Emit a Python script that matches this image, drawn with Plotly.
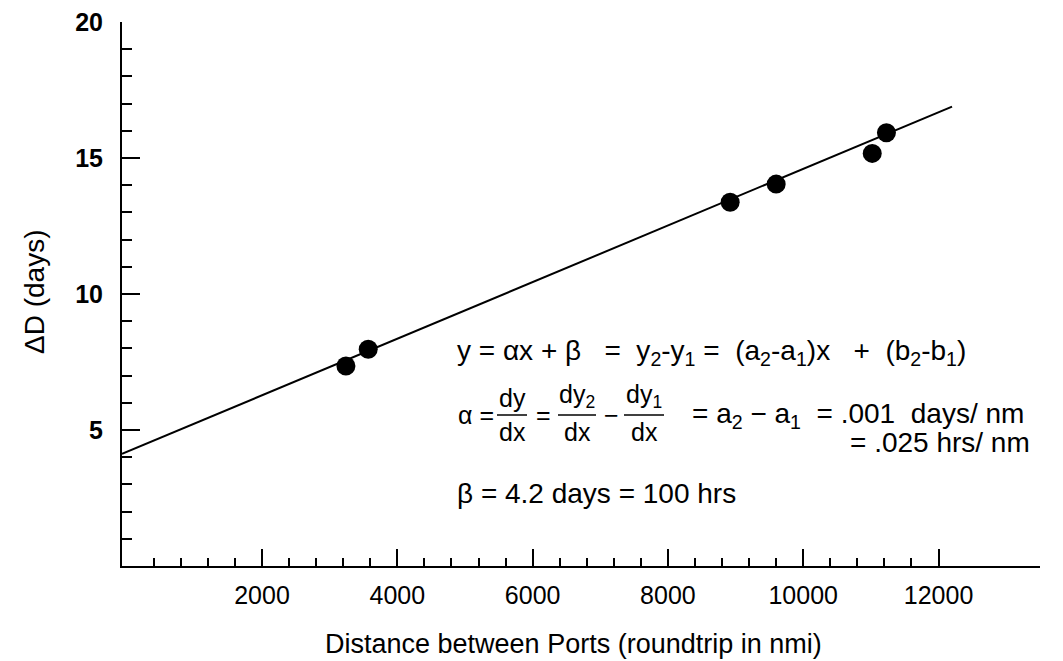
import plotly.graph_objects as go

# ---- data ----
dist_nmi = [3240, 3570, 8920, 9600, 11020, 11230]
delta_days = [7.35, 7.97, 13.37, 14.04, 15.17, 15.93]
fit_x = [-70, 12200]
fit_y = [4.12, 16.89]
x_tickvals = [2000, 4000, 6000, 8000, 10000, 12000]
x_ticktext = ["2000", "4000", "6000", "8000", "10000", "12000"]
x_minorvals = [v for v in range(400, 12000, 400) if v % 2000 != 0]
y_tickvals = [5, 10, 15, 20]
y_ticktext = ["5", "10", "15", "20"]
y_minorvals = [v for v in range(1, 20) if v % 5 != 0]

W, H = 1063, 661
L, R, T, B = 122, 23, 22, 95
XR = [-70, 13500]
YR = [0, 20]


def px(x):
    return (x - L) / (W - L - R)


def py(y):
    return (H - B - y) / (H - T - B)


FONT = "Liberation Sans, Arial, sans-serif"

fig = go.Figure()
fig.add_trace(go.Scatter(x=fit_x, y=fit_y, mode="lines",
                         line=dict(color="black", width=2), hoverinfo="skip",
                         showlegend=False))
fig.add_trace(go.Scatter(x=dist_nmi, y=delta_days, mode="markers",
                         marker=dict(color="black", size=19), showlegend=False))

fig.update_layout(
    width=W, height=H,
    margin=dict(l=L, r=R, t=T, b=B, autoexpand=False),
    paper_bgcolor="white", plot_bgcolor="white",
    showlegend=False,
)

fig.update_xaxes(
    range=XR, showgrid=False, zeroline=False,
    showline=True, linecolor="black", linewidth=2,
    tickmode="array", tickvals=x_tickvals, ticktext=x_ticktext,
    ticks="inside", ticklen=17, tickwidth=2, tickcolor="black",
    minor=dict(tickmode="array", tickvals=x_minorvals, ticks="inside",
               ticklen=8, tickwidth=1.5, tickcolor="black"),
    tickfont=dict(family=FONT, size=25, color="black"),
    ticklabelstandoff=6,
)
fig.update_yaxes(
    range=YR, showgrid=False, zeroline=False,
    showline=True, linecolor="black", linewidth=2,
    tickmode="array", tickvals=y_tickvals, ticktext=y_ticktext,
    ticks="inside", ticklen=18, tickwidth=2, tickcolor="black",
    minor=dict(tickmode="array", tickvals=y_minorvals, ticks="inside",
               ticklen=10, tickwidth=1.5, tickcolor="black"),
    tickfont=dict(family=FONT, size=25, color="black", weight="bold"),
    ticklabelstandoff=12,
)

ann = []
shapes = []


def add_text(text, x, y, xanchor="left", yanchor="middle", size=27, angle=0):
    ann.append(dict(text=text, x=px(x), y=py(y), xref="paper", yref="paper",
                    xanchor=xanchor, yanchor=yanchor, showarrow=False,
                    textangle=angle,
                    font=dict(family=FONT, size=size, color="black")))


# axis titles
add_text("Distance between Ports (roundtrip in nmi)", 573, 644, xanchor="center", size=27)
add_text("ΔD (days)", 34, 292, xanchor="center", size=28, angle=-90)

# equations
add_text("y = αx + β   =  y<sub>2</sub>-y<sub>1</sub> =  (a<sub>2</sub>-a<sub>1</sub>)x   +  (b<sub>2</sub>-b<sub>1</sub>)",
         455, 352, size=28)

ybar = 415
FS = 25
add_text("α =", 456, ybar, size=FS)
for num, cx, hw in [("dy", 512, 15), ("dy<sub>2</sub>", 577, 19), ("dy<sub>1</sub>", 644, 20)]:
    add_text(num, cx, ybar - 1, xanchor="center", yanchor="bottom", size=FS)
    add_text("dx", cx, ybar + 1, xanchor="center", yanchor="top", size=FS)
    shapes.append(dict(type="line", xref="paper", yref="paper",
                       x0=px(cx - hw), x1=px(cx + hw), y0=py(ybar), y1=py(ybar),
                       line=dict(color="black", width=1.5)))
add_text("=", 543, ybar, xanchor="center", size=FS)
add_text("−", 611, ybar, xanchor="center", size=FS)
add_text("= a<sub>2</sub> − a<sub>1</sub>  = .001  days/ nm", 690, ybar, size=28)
add_text("= .025 hrs/ nm", 1032, 442, xanchor="right", size=28)
add_text("β = 4.2 days = 100 hrs", 455, 493, size=28)

fig.update_layout(annotations=ann, shapes=shapes)

fig.write_html("out.html", config={"displayModeBar": False},
               post_script="document.body.style.margin='0px';")
